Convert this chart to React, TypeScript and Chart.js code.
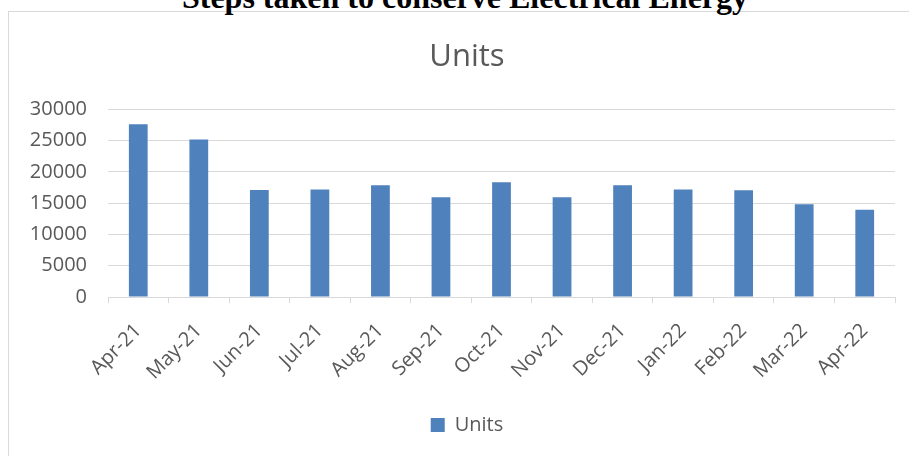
import React, { useEffect, useRef } from "react";
import { Chart, registerables } from "chart.js";

Chart.register(...registerables);

const pageTitle = "Steps taken to conserve Electrical Energy";
const chartTitle = "Units";
const seriesName = "Units";
const months = [
  "Apr-21", "May-21", "Jun-21", "Jul-21", "Aug-21", "Sep-21", "Oct-21",
  "Nov-21", "Dec-21", "Jan-22", "Feb-22", "Mar-22", "Apr-22",
];
const units = [27600, 25150, 17080, 17170, 17860, 15930, 18340, 15930, 17860, 17170, 17060, 14800, 13950];
const yMin = 0;
const yMax = 30000;
const yStep = 5000;

const TEXT = "#595959";
const GRID = "#D9D9D9";
const BAR = "#4F81BD";
const FONT = "'Open Sans', 'Liberation Sans', sans-serif";

// Centre the title and legend on the whole chart box (as the source does), not on the padded canvas.
const centreShift = {
  id: "centreShift",
  afterLayout(chart: any) {
    const d = 15;
    for (const box of [chart.titleBlock, chart.legend]) {
      if (box) {
        box.left += d;
        box.right += d;
      }
    }
  },
};

export default function App() {
  const ref = useRef<HTMLCanvasElement | null>(null);

  useEffect(() => {
    if (!ref.current) return;
    const chart = new Chart(ref.current, {
      type: "bar",
      data: {
        labels: months,
        datasets: [
          {
            label: seriesName,
            data: units,
            backgroundColor: BAR,
            borderWidth: 0,
            barPercentage: 0.31,
            categoryPercentage: 1,
          },
        ],
      },
      plugins: [centreShift],
      options: {
        responsive: false,
        animation: false,
        devicePixelRatio: 1,
        layout: { padding: { left: 0, right: 29, top: 0, bottom: 11 } },
        plugins: {
          title: {
            display: true,
            text: chartTitle,
            color: TEXT,
            font: { family: FONT, size: 31, weight: "normal" },
            padding: { top: 27, bottom: 33 },
          },
          legend: {
            display: true,
            position: "bottom",
            labels: {
              color: TEXT,
              boxWidth: 14,
              boxHeight: 14,
              font: { family: FONT, size: 20 },
              padding: 10,
            },
          },
          tooltip: { enabled: false },
        },
        scales: {
          x: {
            grid: {
              offset: true,
              drawOnChartArea: false,
              drawTicks: true,
              tickLength: 6,
              color: GRID,
              lineWidth: 1,
            },
            border: { display: true, color: GRID, width: 1 },
            ticks: {
              color: TEXT,
              font: { family: FONT, size: 20 },
              minRotation: 45,
              maxRotation: 45,
              autoSkip: false,
              padding: 16,
            },
            afterFit: (s: any) => {
              s.height = 108;
            },
          },
          y: {
            min: yMin,
            max: yMax,
            grid: { color: GRID, lineWidth: 1, drawTicks: false },
            border: { display: false },
            ticks: {
              stepSize: yStep,
              color: TEXT,
              font: { family: FONT, size: 20 },
              padding: 21,
              callback: (v: any) => String(v),
            },
            afterFit: (s: any) => {
              s.width = 99;
            },
          },
        },
      },
    });
    return () => chart.destroy();
  }, []);

  return (
    <div
      style={{
        position: "fixed",
        left: 0,
        top: 0,
        width: 909,
        height: 456,
        overflow: "hidden",
        background: "#fff",
      }}
    >
      <div
        style={{
          position: "absolute",
          left: 8,
          top: 11,
          width: 930,
          height: 470,
          border: `1px solid ${GRID}`,
          boxSizing: "border-box",
        }}
      />
      <div
        style={{
          position: "absolute",
          left: 0,
          top: -19,
          width: 930,
          textAlign: "center",
          fontFamily: "'Liberation Serif', 'Times New Roman', serif",
          fontWeight: "bold",
          fontSize: 32,
          lineHeight: "32px",
          whiteSpace: "nowrap",
          color: "#000",
        }}
      >
        {pageTitle}
      </div>
      <canvas
        ref={ref}
        width={915}
        height={444}
        style={{ position: "absolute", left: 9, top: 12, width: 915, height: 444 }}
      />
    </div>
  );
}
